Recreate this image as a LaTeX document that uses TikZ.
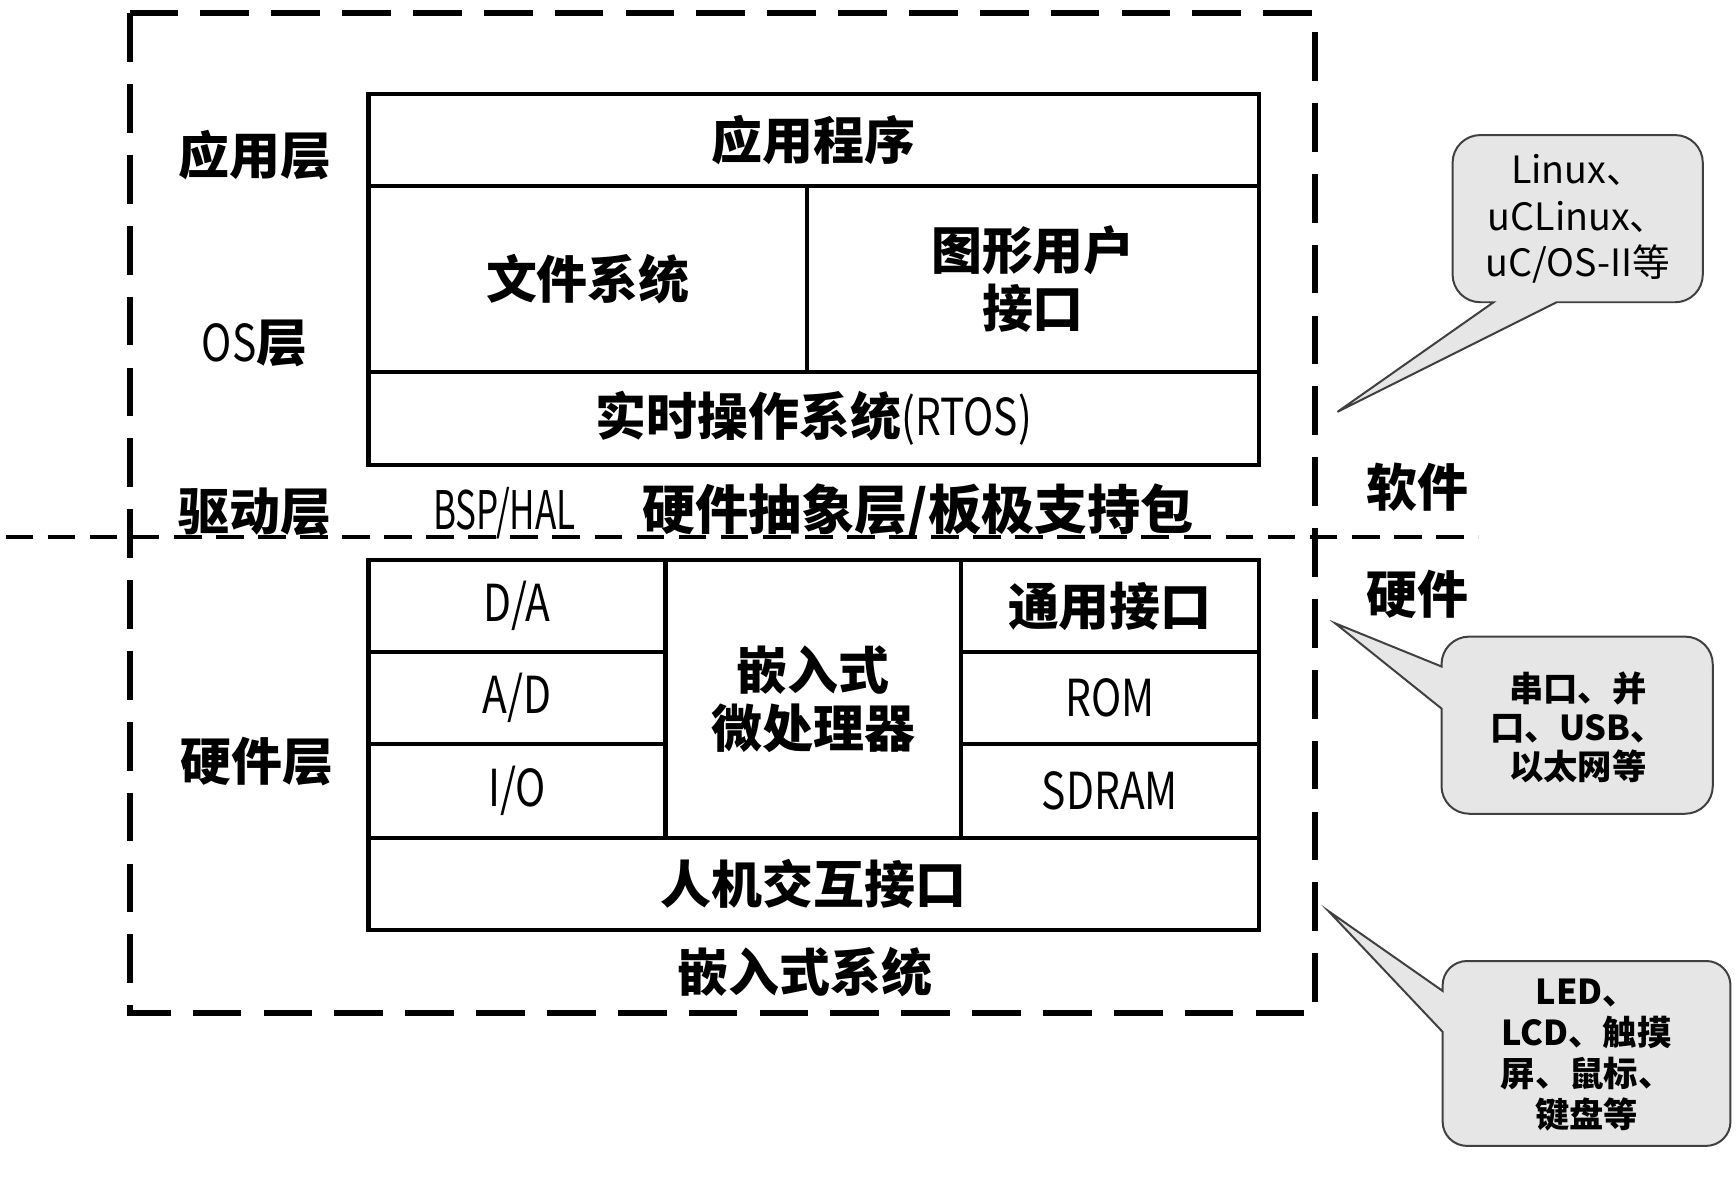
\documentclass[tikz,border=0pt]{standalone}
\usepackage{fontspec}
\setmainfont{Noto Sans CJK SC}
\newfontfamily\narrowlat[FakeStretch=0.8]{Noto Sans CJK SC}
\newfontfamily\narrowerlat[FakeStretch=0.66]{Noto Sans CJK SC}
\newcommand\lt[1]{{\narrowlat\mdseries #1}}
\definecolor{cofill}{HTML}{E6E6E6}
\definecolor{coline}{HTML}{404040}
\begin{document}
\begin{tikzpicture}[x=0.5pt,y=-0.5pt,
  cell/.style={draw, line width=2pt, inner sep=0pt, align=center,
    font=\fontsize{23}{26}\selectfont\bfseries},
  lbl/.style={inner sep=0pt, align=center, font=\fontsize{23}{26}\selectfont\bfseries},
  outerdash/.style={line width=2.7pt, dash pattern=on 22pt off 10pt},
  middash/.style={line width=1.8pt, dash pattern=on 12.5pt off 6.5pt},
  co/.style={fill=cofill, draw=coline, line width=0.9pt},
  cotext/.style={inner sep=0pt, align=center},
]
\useasboundingbox (0,0) rectangle (1568,1069);

% outer dashed frame and software/hardware divider
\coordinate (frameA) at (117,12);
\coordinate (frameB) at (1188,915);
\draw[outerdash] (frameA) rectangle (frameB);
\coordinate (divL) at (5,485);
\coordinate (divR) at (1335,485);
\draw[middash] (divL) -- (divR);

% software stack
\node[cell, minimum width=402pt, minimum height=41.5pt] (app) at (735,126.5) {应用程序};
\node[cell, minimum width=198pt, minimum height=84pt] (fs) at (531,252) {文件系统};
\node[cell, minimum width=204pt, minimum height=84pt] (gui) at (933,252) {图形用户\\接口};
\node[cell, minimum width=402pt, minimum height=42pt] (rtos) at (735,378) {实时操作系统\lt{(RTOS)}};

% hardware stack
\node[cell, minimum width=134pt, minimum height=41.5pt] (da) at (467,547.5) {\lt{D/A}};
\node[cell, minimum width=134pt, minimum height=41.5pt] (ad) at (467,630.5) {\lt{A/D}};
\node[cell, minimum width=134pt, minimum height=42.5pt] (io) at (467,714.5) {\lt{I/O}};
\node[cell, minimum width=133.5pt, minimum height=125.5pt] (cpu) at (734.5,631.5) {嵌入式\\微处理器};
\node[cell, minimum width=134.5pt, minimum height=41.5pt] (gen) at (1002.5,547.5) {通用接口};
\node[cell, minimum width=134.5pt, minimum height=41.5pt] (rom) at (1002.5,630.5) {\lt{ROM}};
\node[cell, minimum width=134.5pt, minimum height=42.5pt] (sdram) at (1002.5,714.5) {\lt{SDRAM}};
\node[cell, minimum width=402pt, minimum height=41.5pt] (hmi) at (735,798.5) {人机交互接口};

% layer labels
\node[lbl] (lapp) at (230,140) {应用层};
\node[lbl] (los) at (230,310) {\lt{OS}层};
\node[lbl] (ldrv) at (230,462) {驱动层};
\node[lbl, font=\fontsize{24}{26}\selectfont\bfseries] (lbsp) at (735,462) {{\narrowerlat\mdseries BSP/HAL}\hspace{30pt}硬件抽象层/板极支持包};
\node[lbl] (lhw) at (232,688) {硬件层};
\node[lbl] (lsys) at (727,878) {嵌入式系统};
\node[lbl] (lsw) at (1280,440) {软件};
\node[lbl] (lhard) at (1280,537) {硬件};

% callout 1
\draw[co] (1349,273) -- (1208,372) -- (1406,273) -- (1513,273)
  arc[start angle=-90,end angle=0,radius=12.5pt] -- (1538,147)
  arc[start angle=0,end angle=90,radius=12.5pt] -- (1337,122)
  arc[start angle=90,end angle=180,radius=12.5pt] -- (1312,248)
  arc[start angle=180,end angle=270,radius=12.5pt] -- cycle;
\node[cotext, font=\fontsize{17}{21}\selectfont] (c1) at (1425,198) {Linux、\\uCLinux、\\uC/OS-II等};

% callout 2
\draw[co] (1302,602) -- (1206,563) -- (1302,640) -- (1302,710)
  arc[start angle=180,end angle=270,radius=12.5pt] -- (1522,735)
  arc[start angle=-90,end angle=0,radius=12.5pt] -- (1547,600)
  arc[start angle=0,end angle=90,radius=12.5pt] -- (1327,575)
  arc[start angle=90,end angle=180,radius=12.5pt] -- cycle;
\node[cotext, font=\fontsize{15.5}{17.5}\selectfont\bfseries] (c2) at (1425,657) {串口、并\\口、USB、\\以太网等};

% callout 3
\draw[co] (1303,895) -- (1200,823) -- (1303,932) -- (1303,1013)
  arc[start angle=180,end angle=270,radius=11pt] -- (1541,1035)
  arc[start angle=-90,end angle=0,radius=11pt] -- (1563,890)
  arc[start angle=0,end angle=90,radius=11pt] -- (1325,868)
  arc[start angle=90,end angle=180,radius=11pt] -- cycle;
\node[cotext, font=\fontsize{15.5}{18.5}\selectfont\bfseries] (c3) at (1433,953) {LED、\\LCD、触摸\\屏、鼠标、\\键盘等};
\end{tikzpicture}
\end{document}
